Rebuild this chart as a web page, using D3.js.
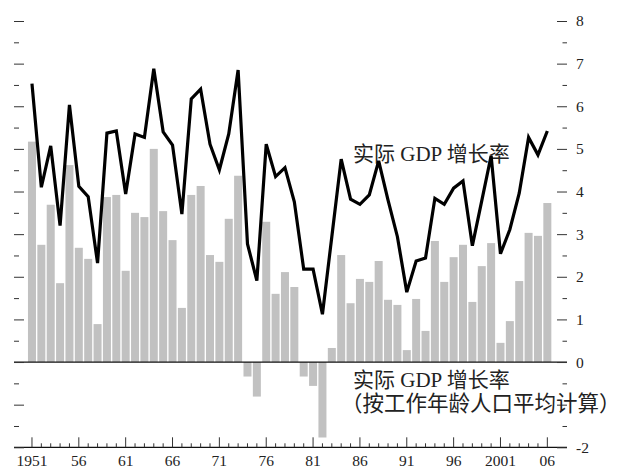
<!DOCTYPE html>
<html><head><meta charset="utf-8">
<script src="https://cdn.jsdelivr.net/npm/d3@7/dist/d3.min.js"></script>
<style>
html,body{margin:0;padding:0;background:#fff;}
svg{display:block;}
</style></head>
<body>
<svg id="chart" width="624" height="468"></svg>
<script>
const years = [1951,1952,1953,1954,1955,1956,1957,1958,1959,1960,
  1961,1962,1963,1964,1965,1966,1967,1968,1969,1970,
  1971,1972,1973,1974,1975,1976,1977,1978,1979,1980,
  1981,1982,1983,1984,1985,1986,1987,1988,1989,1990,
  1991,1992,1993,1994,1995,1996,1997,1998,1999,2000,
  2001,2002,2003,2004,2005,2006];
// 实际 GDP 增长率（按工作年龄人口平均计算）— bars
const growthPerWorkingAge = [5.17,2.75,3.69,1.85,4.62,2.68,2.42,0.89,3.87,3.92,
  2.14,3.50,3.40,5.00,3.54,2.86,1.27,3.92,4.13,2.51,
  2.35,3.36,4.37,-0.34,-0.81,3.29,1.60,2.11,1.76,-0.34,
  -0.56,-1.77,0.33,2.51,1.38,1.95,1.88,2.37,1.46,1.34,
  0.28,1.48,0.73,2.84,1.88,2.46,2.75,1.41,2.25,2.79,
  0.45,0.96,1.90,3.03,2.96,3.73];
// 实际 GDP 增长率 — line
const gdpGrowth = [6.53,4.10,5.07,3.20,6.03,4.12,3.88,2.32,5.37,5.42,
  3.94,5.35,5.27,6.88,5.40,5.09,3.47,6.17,6.40,5.11,
  4.51,5.35,6.85,2.77,1.91,5.11,4.35,4.56,3.76,2.18,
  2.18,1.12,2.94,4.76,3.82,3.70,3.92,4.72,3.80,2.94,
  1.64,2.37,2.44,3.84,3.70,4.08,4.25,2.73,3.78,4.84,
  2.54,3.11,3.96,5.27,4.86,5.42];
const xLabelYears = [1951,1956,1961,1966,1971,1976,1981,1986,1991,1996,2001,2006];
const xTickLabels = ["1951","56","61","66","71","76","81","86","91","96","2001","06"];
const yTickValues = [-2,-1.5,-1,-0.5,0,0.5,1,1.5,2,2.5,3,3.5,4,4.5,5,5.5,6,6.5,7,7.5,8];
const yLabelValues = [8,7,6,5,4,3,2,1,0,-2];
const labelLine = "实际 GDP 增长率";
const labelBars1 = "实际 GDP 增长率";
const labelBars2 = "（按工作年龄人口平均计算）";

const FONT = "'Liberation Serif', 'Times New Roman', 'DejaVu Serif', 'Noto Sans CJK SC', serif";

const svg = d3.select("#chart");
const x = d3.scaleBand().domain(years).range([26.6, 552.7]).padding(0.146);
const y = d3.scaleLinear().domain([-2, 8]).range([447.3, 21]);
const cx = d => x(d) + x.bandwidth()/2;

// bars
svg.append("g").selectAll("rect").data(years).join("rect")
  .attr("x", d => x(d))
  .attr("width", x.bandwidth())
  .attr("y", (d,i) => y(Math.max(0, growthPerWorkingAge[i])))
  .attr("height", (d,i) => Math.abs(y(growthPerWorkingAge[i]) - y(0)))
  .attr("fill", "#c1c1c1");

// zero line & bottom line
svg.append("line").attr("x1",14).attr("x2",567).attr("y1",y(0)).attr("y2",y(0))
  .attr("stroke","#111").attr("stroke-width",1.2);
svg.append("line").attr("x1",14).attr("x2",567).attr("y1",y(-2)).attr("y2",y(-2))
  .attr("stroke","#111").attr("stroke-width",1.2);

const isMajor = v => Number.isInteger(v);

// left axis ticks
const leftAx = svg.append("g").attr("transform","translate(14,0)")
  .call(d3.axisRight(y).tickValues(yTickValues).tickSize(10).tickFormat(""));
leftAx.select(".domain").remove();
leftAx.selectAll(".tick line").attr("x2", d => isMajor(d) ? 10 : 5).attr("stroke","#333");

// right axis
const rightAx = svg.append("g").attr("transform","translate(557,0)")
  .call(d3.axisRight(y).tickValues(yTickValues).tickSize(10)
    .tickFormat(d => yLabelValues.includes(d) ? String(d) : ""));
rightAx.attr("font-family", FONT).attr("font-size", 15.5);
rightAx.select(".domain").remove();
rightAx.selectAll(".tick line").attr("x1", d => isMajor(d) ? 0 : 5.5).attr("x2",10).attr("stroke","#333");
rightAx.selectAll(".tick text").attr("x",19).attr("fill","#222").style("font-family", FONT);

// bottom ticks
svg.append("g").selectAll("line").data(years).join("line")
  .attr("x1", d => cx(d)).attr("x2", d => cx(d))
  .attr("y1", y(-2))
  .attr("y2", d => y(-2) - (xLabelYears.includes(d) ? 10 : 4))
  .attr("stroke","#333").attr("stroke-width",1);
svg.append("g").selectAll("text").data(xLabelYears).join("text")
  .attr("x", d => cx(d)).attr("y", 466)
  .attr("text-anchor","middle").attr("font-size",15.5)
  .attr("fill","#222").style("font-family", FONT)
  .text((d,i) => xTickLabels[i]);

// labels
const addLabel = (tx, xx, yy, fs) => svg.append("text").attr("x",xx).attr("y",yy)
  .attr("dominant-baseline","central").attr("font-size",fs).attr("fill","#222")
  .style("font-family", FONT).text(tx);
addLabel(labelLine, 353, 154, 21);
addLabel(labelBars1, 353, 380, 21);
addLabel(labelBars2, 341, 404, 21.5);

// line
const line = d3.line().x((d,i) => cx(years[i])).y(d => y(d));
svg.append("path").datum(gdpGrowth).attr("d", line)
  .attr("fill","none").attr("stroke","#000").attr("stroke-width",3.2)
  .attr("stroke-linejoin","miter");
</script>
</body></html>
